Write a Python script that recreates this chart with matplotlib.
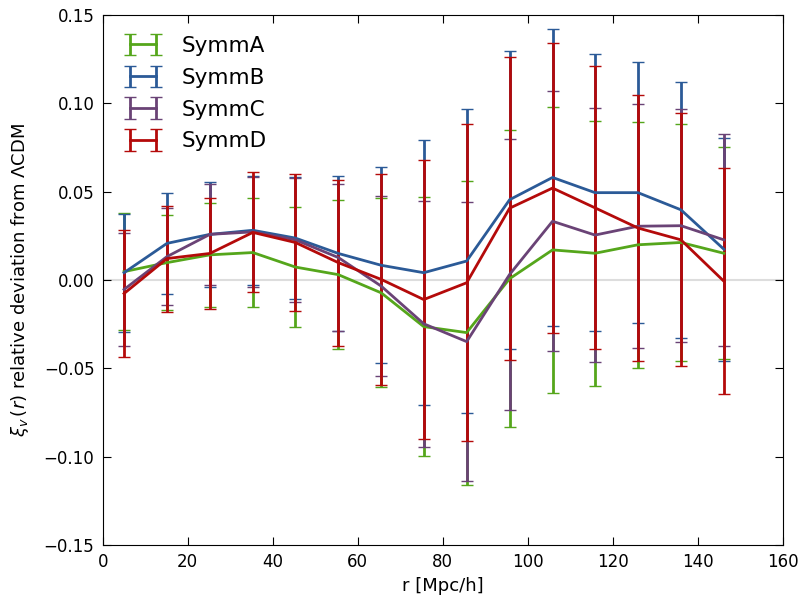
import matplotlib
matplotlib.use('Agg')
import matplotlib.pyplot as plt

# bin centres [Mpc/h]
r = [5.0, 15.1, 25.2, 35.3, 45.3, 55.4, 65.5, 75.5, 85.6, 95.7, 105.8, 115.8, 125.9, 136.0, 146.1]

# relative deviation of xi_v(r) from LCDM, and errors
symmA = [0.0047, 0.0098, 0.0142, 0.0155, 0.0073, 0.0030, -0.0073, -0.0264, -0.0298, 0.0007,
         0.0170, 0.0151, 0.0199, 0.0212, 0.0151]
symmA_err = [0.033, 0.027, 0.0295, 0.031, 0.034, 0.042, 0.0535, 0.0735, 0.086, 0.084,
             0.081, 0.075, 0.0695, 0.067, 0.060]

symmB = [0.0041, 0.0207, 0.0258, 0.0281, 0.0237, 0.0150, 0.0083, 0.0041, 0.0107, 0.0454,
         0.0580, 0.0494, 0.0494, 0.0397, 0.0174]
symmB_err = [0.0335, 0.0285, 0.0297, 0.031, 0.0345, 0.044, 0.0555, 0.075, 0.086, 0.0844,
             0.084, 0.0785, 0.074, 0.0724, 0.063]

symmC = [-0.0054, 0.0132, 0.0258, 0.0272, 0.0227, 0.0127, -0.0035, -0.0248, -0.0349, 0.0031,
         0.0332, 0.0254, 0.0304, 0.0307, 0.0227]
symmC_err = [0.0317, 0.0276, 0.0285, 0.031, 0.035, 0.0415, 0.051, 0.0695, 0.079, 0.0766,
             0.0735, 0.072, 0.069, 0.0658, 0.060]

symmD = [-0.0077, 0.0121, 0.0150, 0.0269, 0.0212, 0.0098, 0.0003, -0.0111, -0.0016, 0.0406,
         0.0520, 0.0408, 0.0294, 0.0227, -0.0007]
symmD_err = [0.0358, 0.030, 0.0315, 0.034, 0.0388, 0.047, 0.0595, 0.079, 0.0897, 0.0857,
             0.082, 0.080, 0.075, 0.0715, 0.064]

series = [('SymmA', symmA, symmA_err, '#55a61b'),
          ('SymmB', symmB, symmB_err, '#2b5a97'),
          ('SymmC', symmC, symmC_err, '#6a4376'),
          ('SymmD', symmD, symmD_err, '#b40a0a')]

fig = plt.figure(figsize=(8.03, 5.95), dpi=100)
ax = fig.add_axes([0.128, 0.084, 0.847, 0.891])

ax.axhline(0, color='#dddddd', lw=1.5, zorder=0)

for name, y, err, col in series:
    ax.errorbar(r, y, yerr=err, color=col, lw=2, elinewidth=2,
                capsize=4, capthick=1, label=name)

ax.set_xlim(0, 160)
ax.set_ylim(-0.15, 0.15)
ax.set_xticks(range(0, 161, 20))
ax.set_yticks([-0.15, -0.10, -0.05, 0.0, 0.05, 0.10, 0.15])
ax.set_yticklabels(['\u22120.15', '\u22120.10', '\u22120.05', '0.00', '0.05', '0.10', '0.15'])
ax.tick_params(direction='in', top=True, right=True, length=6, labelsize=12, pad=6)

ax.set_xlabel('r [Mpc/h]', fontsize=13)
ax.set_ylabel(r'$\xi_v\,(r)$ relative deviation from $\Lambda$CDM', fontsize=13, labelpad=9)

ax.legend(loc='upper left', frameon=False, fontsize=15.5, numpoints=2,
          handlelength=1.8, handletextpad=0.9, labelspacing=0.55,
          borderaxespad=0.58, borderpad=0.4)

fig.savefig('out.png', dpi=100)
